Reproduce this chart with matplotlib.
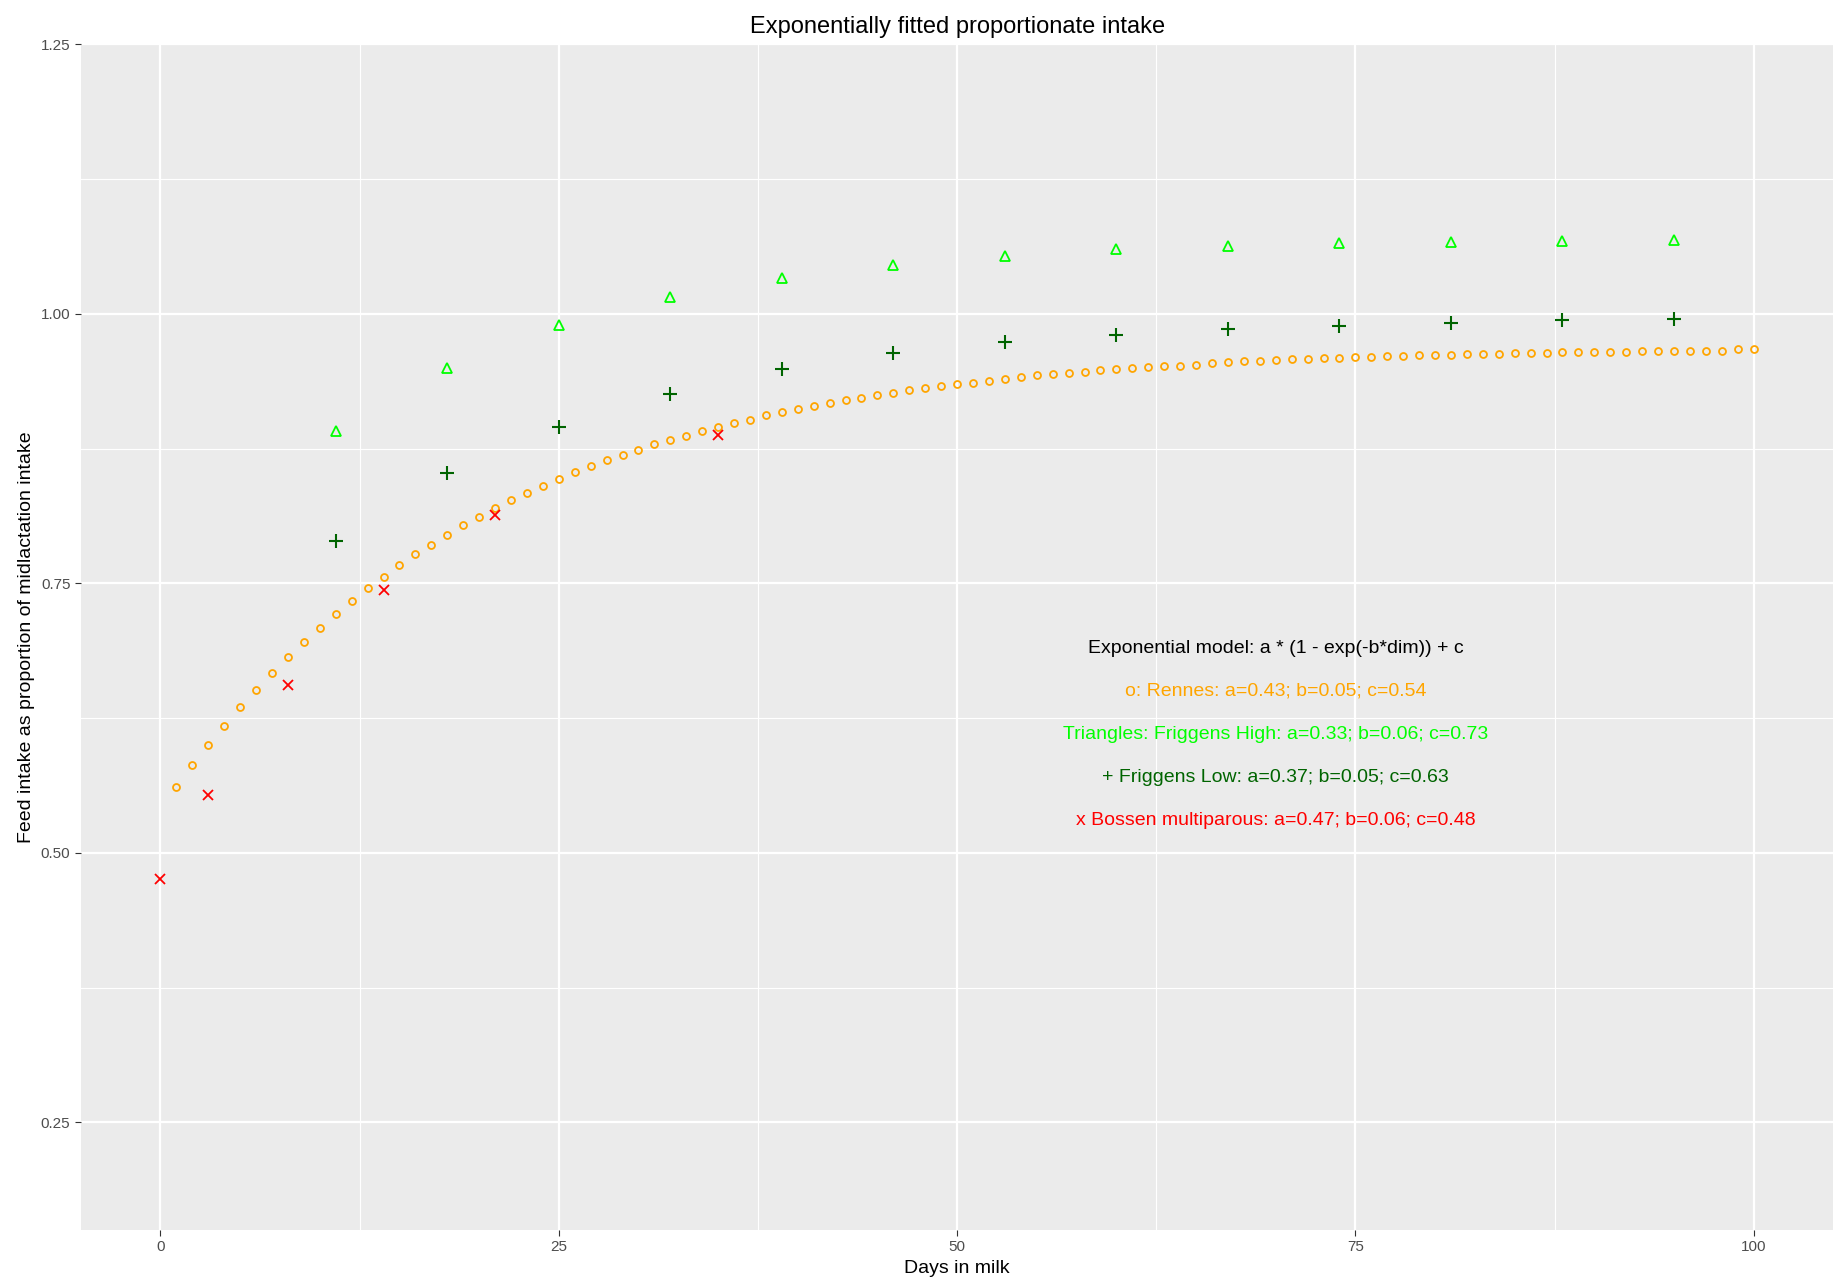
import matplotlib
matplotlib.use("Agg")
import matplotlib.pyplot as plt

plt.rcParams['font.family'] = ['Liberation Sans', 'DejaVu Sans']

# Rennes (orange circles), one point per day
rennes_dim = list(range(1, 101))
rennes_intake = [
    0.561, 0.581, 0.600, 0.618, 0.635, 0.651, 0.667, 0.682, 0.696, 0.709,
    0.722, 0.734, 0.746, 0.756, 0.767, 0.777, 0.786, 0.795, 0.804, 0.812,
    0.820, 0.827, 0.834, 0.840, 0.847, 0.853, 0.859, 0.864, 0.869, 0.874,
    0.879, 0.883, 0.887, 0.891, 0.895, 0.899, 0.902, 0.906, 0.909, 0.912,
    0.915, 0.917, 0.920, 0.922, 0.925, 0.927, 0.929, 0.931, 0.933, 0.935,
    0.936, 0.938, 0.940, 0.941, 0.943, 0.944, 0.945, 0.946, 0.948, 0.949,
    0.950, 0.951, 0.952, 0.952, 0.953, 0.954, 0.955, 0.956, 0.956, 0.957,
    0.958, 0.958, 0.959, 0.959, 0.960, 0.960, 0.961, 0.961, 0.962, 0.962,
    0.962, 0.963, 0.963, 0.963, 0.964, 0.964, 0.964, 0.965, 0.965, 0.965,
    0.965, 0.965, 0.966, 0.966, 0.966, 0.966, 0.966, 0.966, 0.967, 0.967,
]

# Friggens (weekly points)
friggens_dim = [11, 18, 25, 32, 39, 46, 53, 60, 67, 74, 81, 88, 95]
friggens_high = [0.891, 0.950, 0.990, 1.016, 1.033, 1.045, 1.054, 1.060, 1.063, 1.066, 1.067, 1.068, 1.069]
friggens_low = [0.789, 0.852, 0.895, 0.926, 0.949, 0.964, 0.974, 0.980, 0.986, 0.989, 0.992, 0.994, 0.995]

# Bossen multiparous
bossen_dim = [0, 3, 8, 14, 21, 35]
bossen_intake = [0.476, 0.554, 0.656, 0.744, 0.813, 0.888]

notes = [
    ("Exponential model: a * (1 - exp(-b*dim)) + c", "black"),
    ("o: Rennes: a=0.43; b=0.05; c=0.54", "orange"),
    ("Triangles: Friggens High: a=0.33; b=0.06; c=0.73", "#00FF00"),
    ("+ Friggens Low: a=0.37; b=0.05; c=0.63", "darkgreen"),
    ("x Bossen multiparous: a=0.47; b=0.06; c=0.48", "red"),
]
note_y = [0.69, 0.65, 0.61, 0.57, 0.53]

fig = plt.figure(figsize=(18.37, 12.88), dpi=100)
ax = fig.add_axes([0.044, 0.045, 0.954, 0.9205])
ax.set_facecolor('#EBEBEB')

ax.plot(rennes_dim, rennes_intake, 'o', ls='none', ms=5, mfc='none', mec='orange', mew=1.3)
ax.plot(friggens_dim, friggens_high, '^', ls='none', ms=7.5, mfc='none', mec='#00FF00', mew=1.3)
ax.plot(friggens_dim, friggens_low, '+', ls='none', ms=10, mec='darkgreen', mew=1.5)
ax.plot(bossen_dim, bossen_intake, 'x', ls='none', ms=7, mec='red', mew=1.3)

for (txt, col), y in zip(notes, note_y):
    ax.text(70, y, txt, color=col, ha='center', va='center', fontsize=14)

ax.set_xlim(-5, 105)
ax.set_ylim(0.15, 1.25)
ax.set_xticks([0, 25, 50, 75, 100])
ax.set_yticks([0.25, 0.50, 0.75, 1.00, 1.25])
ax.set_yticklabels(['0.25', '0.50', '0.75', '1.00', '1.25'])
ax.set_xticks([12.5, 37.5, 62.5, 87.5], minor=True)
ax.set_yticks([0.375, 0.625, 0.875, 1.125], minor=True)
ax.grid(which='major', color='white', lw=1.6)
ax.grid(which='minor', color='white', lw=0.8)
ax.set_axisbelow(True)
for s in ax.spines.values():
    s.set_visible(False)
ax.tick_params(which='major', colors='#333333', labelcolor='#4D4D4D', labelsize=11, length=4)
ax.tick_params(which='minor', length=0)

ax.set_title('Exponentially fitted proportionate intake', fontsize=17, pad=8)
ax.set_xlabel('Days in milk', fontsize=14)
ax.set_ylabel('Feed intake as proportion of midlactation intake', fontsize=14)

fig.savefig('out.png', dpi=100)
